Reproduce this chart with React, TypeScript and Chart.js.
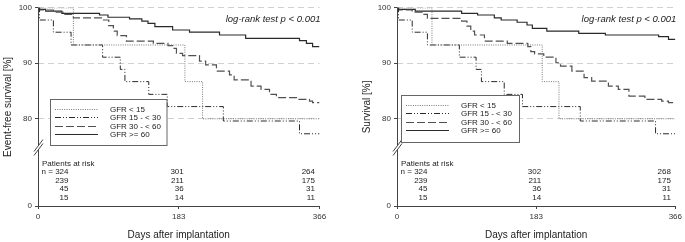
import React, { useEffect, useRef } from 'react';
import { Chart, registerables } from 'chart.js';

Chart.register(...registerables);

const FONT = "'Liberation Sans', Arial, Helvetica, sans-serif";

// ---------- labels & ticks ----------
const seriesLabels = ['GFR < 15', 'GFR 15 - < 30', 'GFR 30 - < 60', 'GFR >= 60'];
const xTickDays = [0, 183, 366];
const yTickValues = [0, 80, 90, 100];
const logRankText = 'log-rank test p < 0.001';
const xTitle = 'Days after implantation';
const efsTitle = 'Event-free survival [%]';
const osTitle = 'Survival [%]';
const riskHeader = 'Patients at risk';

// ---------- Event-free survival (left) ----------
const efsDaysLt15 = [0, 46, 191, 214, 366];
const efsSurvLt15 = [100, 93.3, 86.7, 80.0, 80.0];
const efsDays15to30 = [0, 2, 20, 43, 84, 107, 113, 144, 168, 241, 340, 366];
const efsSurv15to30 = [100, 97.8, 95.6, 93.3, 91.1, 88.9, 86.7, 84.4, 82.2, 79.6, 77.3, 77.3];
const efsDays30to60 = [0, 2, 20, 33, 46, 85, 92, 98, 103, 115, 150, 169, 175, 180, 188, 210, 218, 232, 249, 255, 277, 290, 301, 310, 336, 353, 357, 366];
const efsSurv30to60 = [100, 99.6, 99.2, 98.8, 98.2, 97.8, 96.8, 95.8, 95.0, 94.0, 93.6, 93.2, 92.7, 91.8, 91.4, 90.4, 89.7, 88.6, 87.9, 87.0, 85.9, 85.3, 84.4, 83.8, 83.5, 83.2, 82.9, 82.9];
const efsDaysGe60 = [0, 2, 10, 31, 80, 91, 119, 135, 143, 152, 175, 197, 236, 270, 340, 349, 357, 366];
const efsSurvGe60 = [100, 99.7, 99.4, 99.0, 98.7, 98.3, 98.0, 97.6, 97.2, 96.6, 96.0, 95.6, 95.1, 94.5, 94.1, 93.6, 93.0, 93.0];

// ---------- Overall survival (right) ----------
const osDaysLt15 = [0, 46, 191, 213, 366];
const osSurvLt15 = [100, 93.3, 86.7, 80.0, 80.0];
const osDays15to30 = [0, 2, 20, 40, 82, 104, 111, 141, 165, 241, 340, 366];
const osSurv15to30 = [100, 97.8, 95.6, 93.3, 91.1, 88.9, 86.7, 84.4, 82.2, 79.6, 77.3, 77.3];
const osDays30to60 = [0, 2, 20, 33, 40, 85, 92, 97, 102, 115, 145, 172, 176, 181, 193, 209, 215, 230, 246, 256, 278, 291, 305, 326, 348, 357, 366];
const osSurv30to60 = [100, 99.6, 99.2, 98.8, 98.1, 97.6, 96.7, 95.8, 95.1, 94.0, 93.6, 93.0, 92.1, 91.7, 91.1, 90.1, 89.5, 88.6, 87.4, 86.8, 85.9, 85.3, 84.1, 83.5, 83.2, 82.9, 82.9];
const osDaysGe60 = [0, 2, 24, 85, 106, 128, 137, 158, 171, 178, 197, 239, 274, 344, 357, 366];
const osSurvGe60 = [100, 99.7, 99.4, 99.0, 98.7, 98.2, 97.8, 97.4, 96.9, 96.3, 95.8, 95.4, 95.1, 94.8, 94.3, 94.3];

// ---------- patients at risk (rows: >=60, 30-<60, 15-<30, <15) ----------
const efsRiskGe60 = [324, 301, 264];
const efsRisk30to60 = [239, 211, 175];
const efsRisk15to30 = [45, 36, 31];
const efsRiskLt15 = [15, 14, 11];
const osRiskGe60 = [324, 302, 268];
const osRisk30to60 = [239, 211, 175];
const osRisk15to30 = [45, 36, 31];
const osRiskLt15 = [15, 14, 11];

// value used on the display axis for the "0" below the axis break
const AXIS_BOTTOM = 100 - (200 / 112) * 20;

const styles = [
  { color: '#7a7a7a', width: 1, dash: [1, 1.3] },
  { color: '#2a2a2a', width: 1, dash: [6, 2, 1, 2, 1, 2] },
  { color: '#505050', width: 1.2, dash: [8, 3] },
  { color: '#2a2a2a', width: 1.2, dash: [] as number[] },
];

function makeDatasets(days: number[][], surv: number[][]) {
  return days.map((d, i) => ({
    label: seriesLabels[i],
    data: d.map((x, j) => ({ x, y: surv[i][j] })),
    stepped: 'before' as const,
    borderColor: styles[i].color,
    borderWidth: styles[i].width,
    borderDash: styles[i].dash,
    pointRadius: 0,
    fill: false,
  }));
}

const kmPlugin = {
  id: 'kmExtras',
  afterDraw(chart: any, _args: any, opts: any) {
    const ctx: CanvasRenderingContext2D = chart.ctx;
    const xs = chart.scales.x;
    const area = chart.chartArea;
    const ax = Math.round(area.left) + 0.5;
    ctx.save();
    // broken y axis
    ctx.strokeStyle = '#444';
    ctx.lineWidth = 1;
    ctx.setLineDash([]);
    ctx.beginPath();
    ctx.moveTo(ax, area.top);
    ctx.lineTo(ax, 145.5);
    ctx.moveTo(ax, 149.5);
    ctx.lineTo(ax, area.bottom);
    ctx.moveTo(ax - 4.5, 151.5);
    ctx.lineTo(ax + 4.5, 139.5);
    ctx.moveTo(ax - 4.5, 155.5);
    ctx.lineTo(ax + 4.5, 143.5);
    ctx.stroke();

    // log-rank text
    ctx.fillStyle = '#222';
    ctx.font = `italic 9.5px ${FONT}`;
    ctx.textAlign = 'right';
    ctx.textBaseline = 'middle';
    ctx.fillText(logRankText, xs.getPixelForValue(366) + 1, 19.5);

    // legend box
    const lg = opts.legend;
    ctx.fillStyle = '#fff';
    ctx.fillRect(lg.x, lg.y, lg.w, lg.h);
    ctx.strokeStyle = '#666';
    ctx.lineWidth = 1;
    ctx.strokeRect(Math.round(lg.x) + 0.5, Math.round(lg.y) + 0.5, lg.w, lg.h);
    ctx.font = `8px ${FONT}`;
    ctx.textAlign = 'left';
    chart.data.datasets.forEach((ds: any, i: number) => {
      const ry = Math.round(lg.y + 10 + i * 8.3) + 0.5;
      ctx.save();
      ctx.strokeStyle = ds.borderColor;
      ctx.lineWidth = ds.borderWidth;
      ctx.setLineDash(ds.borderDash || []);
      ctx.beginPath();
      ctx.moveTo(lg.x + 5, ry);
      ctx.lineTo(lg.x + 48, ry);
      ctx.stroke();
      ctx.restore();
      ctx.fillStyle = '#222';
      ctx.fillText(ds.label, lg.x + 60, ry);
    });

    // patients at risk table
    ctx.fillStyle = '#222';
    ctx.font = `8px ${FONT}`;
    ctx.textAlign = 'left';
    ctx.fillText(riskHeader, xs.getPixelForValue(0) + 4, 163.5);
    const anchors = [
      xs.getPixelForValue(xTickDays[0]) + 30.5,
      xs.getPixelForValue(xTickDays[1]) + 5,
      xs.getPixelForValue(xTickDays[2]) - 4.5,
    ];
    ctx.textAlign = 'right';
    (opts.risk as number[][]).forEach((row, r) => {
      row.forEach((n, c) => {
        const txt = r === 0 && c === 0 ? `n = ${n}` : String(n);
        ctx.fillText(txt, anchors[c], 172 + r * 8.5);
      });
    });
    ctx.restore();
  },
};

function KMChart(props: {
  left: number;
  width: number;
  padRight: number;
  yTitle: string;
  days: number[][];
  surv: number[][];
  risk: number[][];
  legend: { x: number; y: number; w: number; h: number };
}) {
  const ref = useRef<HTMLCanvasElement>(null);
  useEffect(() => {
    const chart = new Chart(ref.current as HTMLCanvasElement, {
      type: 'line',
      data: { datasets: makeDatasets(props.days, props.surv) as any },
      plugins: [kmPlugin],
      options: {
        responsive: false,
        animation: false,
        events: [],
        layout: { padding: { left: 0, right: props.padRight, top: 6, bottom: 0 } },
        plugins: {
          legend: { display: false },
          tooltip: { enabled: false },
          kmExtras: { legend: props.legend, risk: props.risk },
        } as any,
        scales: {
          x: {
            type: 'linear',
            min: 0,
            max: 366,
            afterBuildTicks: (s: any) => {
              s.ticks = xTickDays.map((v) => ({ value: v }));
            },
            afterFit: (s: any) => {
              s.height = 36;
            },
            ticks: {
              autoSkip: false,
              maxRotation: 0,
              padding: 3,
              color: '#333',
              font: { family: FONT, size: 8 },
            },
            grid: {
              display: true,
              drawOnChartArea: false,
              drawTicks: true,
              tickLength: 3,
              tickColor: '#444',
            },
            border: { display: true, color: '#444', width: 1 },
            title: {
              display: true,
              text: xTitle,
              color: '#222',
              font: { family: FONT, size: 10 },
              padding: { top: 0, bottom: 1 },
            },
          },
          y: {
            type: 'linear',
            min: AXIS_BOTTOM,
            max: 100,
            afterBuildTicks: (s: any) => {
              s.ticks = yTickValues.map((v) => ({ value: v === 0 ? AXIS_BOTTOM : v }));
            },
            afterFit: (s: any) => {
              s.width = 38;
            },
            ticks: {
              autoSkip: false,
              padding: 3,
              color: '#333',
              font: { family: FONT, size: 8 },
              callback: (v: any) => (Number(v) < 70 ? '0' : String(v)),
            },
            grid: {
              display: true,
              drawOnChartArea: true,
              drawTicks: true,
              tickLength: 3,
              tickColor: '#444',
              color: (c: any) => (c.tick && c.tick.value < 70 ? 'rgba(0,0,0,0)' : '#d0d0d0'),
              lineWidth: 1,
            },
            border: { display: false, dash: [6, 4] },
            title: {
              display: true,
              text: props.yTitle,
              color: '#222',
              font: { family: FONT, size: 10 },
              padding: { top: 2, bottom: 0 },
            },
          },
        },
      },
    });
    return () => chart.destroy();
  }, []);
  return (
    <canvas
      ref={ref}
      width={props.width}
      height={242}
      style={{ position: 'absolute', left: props.left, top: 0, width: props.width, height: 242, display: 'block' }}
    />
  );
}

export default function App() {
  return (
    <div style={{ position: 'fixed', left: 0, top: 0, width: 685, height: 242, background: '#fff' }}>
      <KMChart
        left={0}
        width={359}
        padRight={39.5}
        yTitle={efsTitle}
        days={[efsDaysLt15, efsDays15to30, efsDays30to60, efsDaysGe60]}
        surv={[efsSurvLt15, efsSurv15to30, efsSurv30to60, efsSurvGe60]}
        risk={[efsRiskGe60, efsRisk30to60, efsRisk15to30, efsRiskLt15]}
        legend={{ x: 50, y: 99, w: 116.5, h: 46 }}
      />
      <KMChart
        left={359}
        width={326}
        padRight={8}
        yTitle={osTitle}
        days={[osDaysLt15, osDays15to30, osDays30to60, osDaysGe60]}
        surv={[osSurvLt15, osSurv15to30, osSurv30to60, osSurvGe60]}
        risk={[osRiskGe60, osRisk30to60, osRisk15to30, osRiskLt15]}
        legend={{ x: 42, y: 95, w: 118, h: 47 }}
      />
    </div>
  );
}
